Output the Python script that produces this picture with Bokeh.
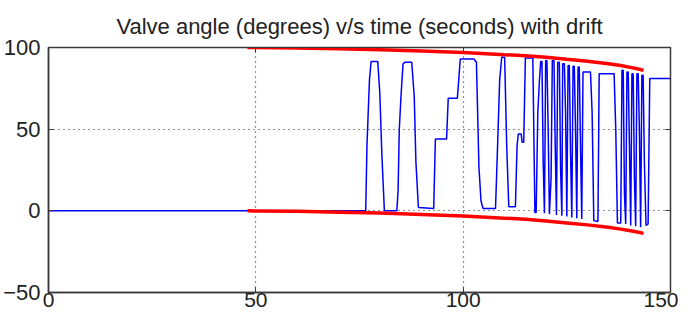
from bokeh.plotting import figure
from bokeh.models import Range1d, FixedTicker, LinearAxis, CustomLabelingPolicy
from bokeh.embed import file_html
from bokeh.resources import INLINE

# ---- data ----
x_ticks = [0, 50, 100, 150]
y_ticks = [-50, 0, 50, 100]

valve_t = [0, 76.5, 76.8, 77.1, 77.4, 77.8, 79.4, 79.9, 80.4, 81.0,
           84.0, 84.3, 84.6, 85.0, 85.5, 86.0, 87.6, 88.2, 88.6, 89.2,
           92.9, 93.3, 96.0, 96.4, 98.6, 99.3, 102.6, 103.2, 103.8, 104.3, 104.8,
           107.8, 108.3, 108.8, 109.3, 110.0, 110.5, 111.0, 112.6, 113.0, 113.3,
           114.0, 114.2, 114.6, 115.0, 116.8, 117.3,
           117.6, 118.0, 118.4, 118.7, 119.0, 119.3, 119.6, 119.9, 120.2, 120.5,
           120.8, 121.2, 121.5, 121.9, 122.2, 122.5, 122.8, 123.2, 123.5, 123.8,
           124.0, 124.4, 124.7, 125.0, 125.3, 125.6, 125.9, 126.2, 126.5, 126.8,
           127.1, 127.4, 127.7, 128.0, 128.3, 128.6, 128.9, 130.7, 131.1, 131.5,
           132.5, 132.8, 136.4, 136.8, 137.2, 138.0, 138.3, 138.6, 138.9, 139.2,
           139.5, 139.8, 140.1, 140.4, 140.7, 141.0, 141.3, 141.6, 141.9, 142.2,
           142.5, 142.8, 143.1, 143.4, 143.7, 144.1, 144.6, 145.0, 150]
valve_v = [0, 0, 40, 60, 80, 91.5, 91.5, 72, 34, 0,
           0, 12, 50, 70, 90, 91, 91, 70, 30, 2,
           1.5, 44, 44, 69, 69, 93, 93, 91, 27, 6, 1.4,
           1.4, 40, 80, 94, 94, 40, 2.5, 2.5, 40, 47,
           47, 42, 42, 93.5, 93.5, -1,
           -1, 60, 80, 91.5, 91.5, 30, -1.5, 92, 92, 50,
           -2, 20, 92, 92, 40, -2.5, 91, 91, 25, -3,
           90, 90, 60, -3.5, 89, 89, 35, -4, 88.5, 88.5,
           50, -4.5, 88, 88, 40, -5, 85, 85, 60, -6,
           -6.5, 84, 84, 50, -7.5, -7.5, 86, 86, 10, -8,
           85, 85, 40, -9, 84, 84, 20, -9.5, 84, 84,
           50, -10, 83, 83, 30, -9, -8, 81, 81]

env_t = [48, 60, 70, 80, 90, 100, 110, 115, 120, 125, 130, 135, 138, 140, 142, 143.5]
env_hi = [100, 99.7, 99.2, 98.6, 97.8, 96.9, 95.6, 95.0, 94.1, 92.8, 91.6, 90.1, 89.0, 88.0, 87.0, 86.0]
env_lo = [0, -0.3, -0.8, -1.4, -2.2, -3.1, -4.5, -5.2, -6.2, -7.4, -8.6, -10.0, -11.2, -12.0, -13.0, -13.8]

title_text = "Valve angle (degrees) v/s time (seconds) with drift"

FONT = "Liberation Sans"
AXC = "#3a3a3a"

p = figure(width=678, height=313, output_backend="svg", toolbar_location=None,
           x_range=Range1d(0, 150), y_range=Range1d(-50, 100),
           min_border_left=47, min_border_right=8, min_border_top=47, min_border_bottom=21)

p.title.text = title_text
p.title.align = "center"
p.title.text_font = FONT
p.title.text_font_size = "22px"
p.title.text_font_style = "normal"
p.title.text_color = "#222222"
p.title.standoff = 10

p.background_fill_color = "white"
p.border_fill_color = "white"
p.outline_line_color = AXC
p.outline_line_width = 1.5

for ax in [p.xaxis[0], p.yaxis[0]]:
    ax.major_label_text_font = FONT
    ax.major_label_text_font_size = "22px"
    ax.major_label_text_color = "#222222"
    ax.major_tick_in = 5
    ax.major_tick_out = 0
    ax.minor_tick_in = 0
    ax.minor_tick_out = 0
    ax.axis_line_color = AXC
    ax.axis_line_width = 1.5
    ax.major_tick_line_color = AXC
    ax.major_label_standoff = 2
p.xaxis[0].ticker = FixedTicker(ticks=x_ticks)
p.xaxis[0].major_label_text_font_size = "21px"
p.xaxis[0].major_label_standoff = 0
p.yaxis[0].ticker = FixedTicker(ticks=y_ticks)
p.yaxis[0].major_label_standoff = 8

no_labels = "for (const i of indices) { indices.unset(i) }\nreturn indices"
top_ax = LinearAxis(ticker=FixedTicker(ticks=x_ticks),
                    major_label_policy=CustomLabelingPolicy(code=no_labels),
                    major_label_text_font_size="1px",
                    major_tick_in=5, major_tick_out=0, minor_tick_in=0, minor_tick_out=0,
                    axis_line_color=AXC, major_tick_line_color=AXC,
                    major_label_standoff=0)
right_ax = LinearAxis(ticker=FixedTicker(ticks=y_ticks),
                      major_label_policy=CustomLabelingPolicy(code=no_labels),
                      major_label_text_font_size="1px",
                      major_tick_in=5, major_tick_out=0, minor_tick_in=0, minor_tick_out=0,
                      axis_line_color=AXC, major_tick_line_color=AXC,
                      major_label_standoff=0)
p.add_layout(top_ax, "above")
p.add_layout(right_ax, "right")

p.xgrid.ticker = FixedTicker(ticks=x_ticks)
p.ygrid.ticker = FixedTicker(ticks=y_ticks)
for g in [p.xgrid[0], p.ygrid[0]]:
    g.grid_line_color = "#222222"
    g.grid_line_dash = "1 4"
    g.grid_line_width = 1.2

p.line(valve_t, valve_v, line_color="#0000ff", line_width=1.5)
p.line(env_t, env_hi, line_color="#ff0000", line_width=3.5)
p.line(env_t, env_lo, line_color="#ff0000", line_width=3.5)

open("out.html", "w").write(file_html(p, INLINE))
